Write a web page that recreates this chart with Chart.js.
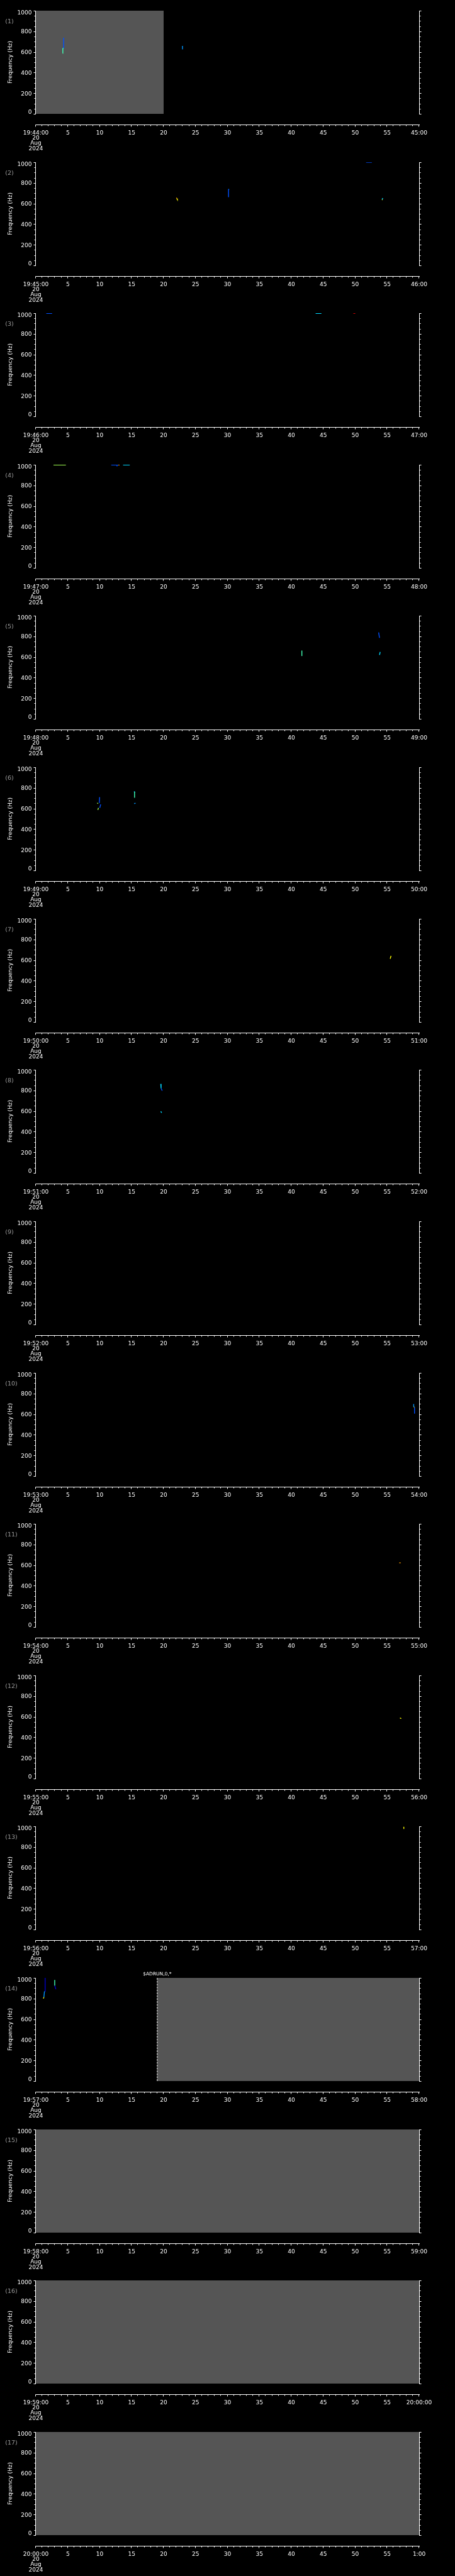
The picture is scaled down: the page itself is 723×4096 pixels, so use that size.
<!DOCTYPE html>
<html><head><meta charset="utf-8">
<script src="https://cdn.jsdelivr.net/npm/chart.js@4.4.1/dist/chart.umd.min.js"></script>
<style>
html,body{margin:0;padding:0;background:#000;}
#wrap{position:relative;width:723px;height:4096px;overflow:hidden;background:#000;}
#wrap canvas{position:absolute;left:0;}
</style></head><body><div id="wrap"></div>
<script>
// ---------------- DATA ----------------
const panelStart = ["19:44:00","19:45:00","19:46:00","19:47:00","19:48:00","19:49:00","19:50:00","19:51:00","19:52:00","19:53:00","19:54:00","19:55:00","19:56:00","19:57:00","19:58:00","19:59:00","20:00:00"];
const panelEnd = ["45:00","46:00","47:00","48:00","49:00","50:00","51:00","52:00","53:00","54:00","55:00","56:00","57:00","58:00","59:00","20:00:00","1:00"];
const dateLines = ["20","Aug","2024"];
const secondTicks = [0,5,10,15,20,25,30,35,40,45,50,55,60];
const secondTickLabels = ["","5","10","15","20","25","30","35","40","45","50","55",""];
const freqTicks = [0,200,400,600,800,1000];
const freqTickLabels = ["0","200","400","600","800","1000"];
const freqTitle = "Frequency (Hz)";

// shaded (grey) data-coverage spans, seconds within the minute
const fillStart = [0,null,null,null,null,null,null,null,null,null,null,null,null,19.0,0,0,0];
const fillEnd   = [20,null,null,null,null,null,null,null,null,null,null,null,null,60,60,60,60];

// event marker (panel 14)
const markerTime  = [null,null,null,null,null,null,null,null,null,null,null,null,null,19.0,null,null,null];
const markerLabel = [null,null,null,null,null,null,null,null,null,null,null,null,null,"$ADRUN,0,*",null,null,null];

// spectral traces: [t1 (s), f1 (Hz), t2 (s), f2 (Hz), intensity level]
const marks01 = [[4.35,638,4.35,738,2],[4.20,587,4.22,635,5],[4.22,635,4.35,638,4],[22.9,630,22.95,658,3]];
const marks02 = [[22.0,656,22.07,648,8],[22.07,648,22.15,638,7],[30.16,661,30.16,739,2],[30.16,735,30.25,739,3],[51.7,1000,52.6,1000,2],[54.22,639,54.3,653,4],[54.2,637,54.22,642,7]];
const marks03 = [[1.63,998,2.54,998,2],[43.8,998,44.7,998,4],[49.7,998,50.0,998,9]];
const marks04 = [[2.76,998,4.7,998,6],[11.8,998,12.9,998,2],[12.9,998,13.1,998,8],[12.7,998,12.7,985,2],[13.65,998,14.7,998,4]];
const marks05 = [[41.64,609,41.64,662,5],[53.66,838,53.8,785,2],[53.8,620,53.9,649,4]];
const marks06 = [[9.93,653,9.98,710,2],[9.6,654,9.75,648,6],[10.0,606,10.15,640,2],[9.7,587,9.8,606,6],[15.45,705,15.45,760,5],[15.37,765,15.45,760,4],[15.4,648,15.6,652,3]];
const marks07 = [[55.47,613,55.6,641,7]];
const marks08 = [[19.55,863,19.6,820,4],[19.6,820,19.78,797,2],[19.55,596,19.7,583,4]];
const marks09 = [];
const marks10 = [[59.15,698,59.15,671,3],[59.15,671,59.25,668,7],[59.28,668,59.28,605,2]];
const marks11 = [[56.9,622,57.1,622,8]];
const marks12 = [[57.0,588,57.2,582,7]];
const marks13 = [[57.56,978,57.6,995,7]];
const marks14 = [[1.18,800,1.25,812,7],[1.25,812,1.35,870,3],[1.4,870,1.45,1000,1],[2.95,980,2.95,926,5],[2.95,926,3.13,890,1]];
const marks15 = [];
const marks16 = [];
const marks17 = [];
const panelMarks = [marks01,marks02,marks03,marks04,marks05,marks06,marks07,marks08,marks09,marks10,marks11,marks12,marks13,marks14,marks15,marks16,marks17];

// ---------------- STYLE ----------------
const S = 0.705;
const W = 723, H = 241;
const PITCH = 341.3 * S;
const AREA = {left: 57, right: 666, top: 17, bottom: 181};
const XAXIS_Y = Math.round(280.7 * S) + 0.5;
const levelColors = {1:'#0000c8',2:'#0050ff',3:'#0096ff',4:'#00d8ff',5:'#40ffb4',6:'#a0ff50',7:'#ffff00',8:'#ffa000',9:'#d00000'};
const FONT = '9px "DejaVu Sans"';
const GREY = '#555555';

const axesPlugin = {
  id: 'panelAxes',
  afterDraw(chart, args, opts) {
    const {ctx, chartArea: a, scales: {x, y}} = chart;
    const i = opts.index;
    ctx.save();
    ctx.strokeStyle = '#ffffff';
    ctx.fillStyle = '#ffffff';
    ctx.lineWidth = 1;
    const lx = a.left - 0.5, rx = a.right + 0.5;
    ctx.beginPath();
    ctx.moveTo(lx, a.top); ctx.lineTo(lx, a.bottom + 1);
    ctx.moveTo(rx, a.top); ctx.lineTo(rx, a.bottom + 1);
    // y ticks (minor every 50 Hz)
    for (let v = 0; v <= 1000; v += 50) {
      const py = Math.min(Math.round(y.getPixelForValue(v)), a.bottom) + 0.5;
      const len = freqTicks.includes(v) ? 3 : 2;
      ctx.moveTo(lx, py); ctx.lineTo(lx - len, py);
      ctx.moveTo(rx, py); ctx.lineTo(rx + len, py);
    }
    // x axis line below
    ctx.moveTo(lx, XAXIS_Y); ctx.lineTo(rx + 0.5, XAXIS_Y);
    for (let s = 0; s <= 60; s++) {
      const px = Math.round(x.getPixelForValue(s)) - 0.5;
      const len = secondTicks.includes(s) ? 3 : 2;
      ctx.moveTo(px, XAXIS_Y); ctx.lineTo(px, XAXIS_Y + len);
    }
    ctx.stroke();

    ctx.font = FONT;
    // y labels
    ctx.textAlign = 'right';
    ctx.textBaseline = 'alphabetic';
    freqTicks.forEach((v, k) => {
      const py = y.getPixelForValue(v);
      let base = py + 3.3;
      if (v === 1000) base = py + 6.3;
      if (v === 0) base = py;
      ctx.fillText(freqTickLabels[k], 50.5, base);
    });
    // x labels
    ctx.textAlign = 'center';
    secondTicks.forEach((s, k) => {
      const px = x.getPixelForValue(s);
      let lab = secondTickLabels[k];
      if (k === 0) lab = panelStart[i];
      if (k === secondTicks.length - 1) lab = panelEnd[i];
      ctx.fillText(lab, px, 213.6);
    });
    const x0 = x.getPixelForValue(0);
    ctx.fillText(dateLines[0], x0, 221.9);
    ctx.fillText(dateLines[1], x0, 230.3);
    ctx.fillText(dateLines[2], x0, 238.8);

    // y title
    ctx.save();
    ctx.translate(16.2, (a.top + a.bottom) / 2);
    ctx.rotate(-Math.PI / 2);
    ctx.textAlign = 'center';
    ctx.textBaseline = 'middle';
    ctx.fillText(freqTitle, 0, 0);
    ctx.restore();

    // panel number
    ctx.fillStyle = '#9a9a9a';
    ctx.textAlign = 'left';
    ctx.font = '9.5px "DejaVu Sans"';
    ctx.fillText('(' + (i + 1) + ')', 8.2, 36.8);

    // marker label
    if (markerTime[i] !== null) {
      ctx.fillStyle = '#ffffff';
      ctx.font = '7.5px "DejaVu Sans"';
      ctx.textAlign = 'center';
      ctx.fillText(markerLabel[i], x.getPixelForValue(markerTime[i]), 13.4);
    }
    ctx.restore();
  }
};

const wrap = document.getElementById('wrap');
for (let i = 0; i < 17; i++) {
  const cv = document.createElement('canvas');
  cv.width = W; cv.height = H;
  cv.style.width = W + 'px'; cv.style.height = H + 'px';
  cv.style.top = Math.round(i * PITCH) + 'px';
  wrap.appendChild(cv);

  const datasets = [];
  if (fillStart[i] !== null) {
    datasets.push({
      data: [{x: fillStart[i], y: 1000}, {x: fillEnd[i], y: 1000}],
      showLine: true, fill: 'origin', backgroundColor: GREY,
      borderColor: 'rgba(0,0,0,0)', borderWidth: 0, pointRadius: 0, order: 10
    });
  }
  if (markerTime[i] !== null) {
    datasets.push({
      data: [{x: markerTime[i], y: 0}, {x: markerTime[i], y: 1000}],
      showLine: true, borderColor: '#ffffff', borderWidth: 1, borderDash: [3, 1.6],
      pointRadius: 0, order: 5
    });
  }
  panelMarks[i].forEach(m => {
    datasets.push({
      data: [{x: m[0], y: m[1]}, {x: m[2], y: m[3]}],
      showLine: true, borderColor: levelColors[m[4]], borderWidth: 1.4,
      pointRadius: 0, order: 1
    });
  });

  new Chart(cv, {
    type: 'scatter',
    data: {datasets},
    options: {
      responsive: false, animation: false, devicePixelRatio: 1,
      events: [],
      layout: {padding: {left: AREA.left, right: W - AREA.right, top: AREA.top, bottom: H - AREA.bottom}},
      scales: {
        x: {type: 'linear', min: 0, max: 60, display: false},
        y: {type: 'linear', min: 0, max: 1000, display: false}
      },
      plugins: {legend: {display: false}, tooltip: {enabled: false}, panelAxes: {index: i}}
    },
    plugins: [axesPlugin]
  });
}
</script></body></html>
